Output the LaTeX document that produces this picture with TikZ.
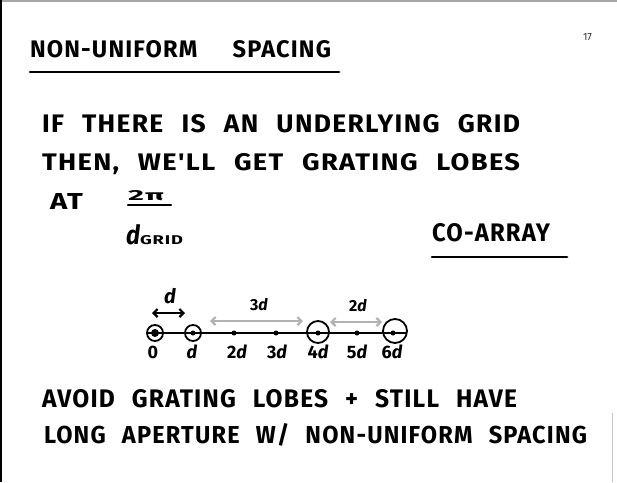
\documentclass[tikz,border=0pt]{standalone}
\usepackage{fontspec}
\usepackage{graphicx}
\newfontfamily\hand[LetterSpace=5,WordSpace=2.4]{Fira Sans}
\newfontfamily\handplain{Fira Sans}
\usetikzlibrary{arrows.meta}
\newcommand{\fitbox}[3]{\resizebox{#1pt}{#2pt}{\hand\bfseries #3}}
\begin{document}
\begin{tikzpicture}[x=1pt,y=-1pt,
  txt/.style={anchor=base west, inner sep=0pt, outer sep=0pt},
  uline/.style={line width=2.8pt, line cap=round},
  axis/.style={line width=2.4pt},
  ring/.style={circle, draw, line width=1.8pt, inner sep=0pt, minimum size=#1},
  dotn/.style={circle, fill, inner sep=0pt, minimum size=#1},
  dimarr/.style={{Straight Barb[length=4pt,width=8pt]}-{Straight Barb[length=4pt,width=8pt]}, line width=2.2pt},
  lab/.style={anchor=base, inner sep=0pt, font=\handplain\bfseries\fontsize{18}{18}\selectfont}
]
\useasboundingbox (0,0) rectangle (617,482);
% page frame
\draw[gray!70, line width=2pt] (0,1) -- (617,1);
\draw[black, line width=2pt] (1,0) -- (1,482);
\draw[gray!45, line width=0.8pt] (612,413) -- (612,482);

% page number
\node[txt, text=black!80] (pnum) at (583,40) {\resizebox{9pt}{7pt}{\handplain 17}};

% title
\node[txt] (title) at (30,57) {\fitbox{301}{17}{NON-UNIFORM\hspace{8pt} SPACING}};
\coordinate (tu1) at (30,72);
\coordinate (tu2) at (339,72);
\draw[uline] (tu1) -- (tu2);

% body text
\node[txt] (l1) at (42,132) {\fitbox{478}{18}{IF THERE IS AN UNDERLYING GRID}};
\node[txt] (l2) at (42,170) {\fitbox{478}{17}{THEN, WE'LL GET GRATING LOBES}};
\node[txt] (at) at (50,209) {\fitbox{33}{16}{AT}};

% fraction 2pi / d_grid
\node[txt] (num) at (128,200) {\fitbox{36}{10}{2π}};
\coordinate (fb1) at (128,205);
\coordinate (fb2) at (171,205);
\draw[uline, line width=2.4pt] (fb1) -- (fb2);
\node[txt] (den) at (126,244) {\resizebox{14pt}{20pt}{\handplain\bfseries\itshape d}\resizebox{43pt}{9pt}{\hand\bfseries GRID}};

% co-array
\node[txt] (coarray) at (432,241) {\fitbox{118}{18}{CO-ARRAY}};
\coordinate (cu1) at (432,257);
\coordinate (cu2) at (567,257);
\draw[uline] (cu1) -- (cu2);

% array diagram
\coordinate (axL) at (147,333);
\coordinate (axR) at (407,333);
\draw[axis] (axL) -- (axR);

\node[dotn=8pt] (p0) at (155,333) {};
\node[dotn=5pt] (p1) at (193,333) {};
\node[dotn=5pt] (p2) at (234,333) {};
\node[dotn=5pt] (p3) at (276,333) {};
\node[dotn=5pt] (p4) at (318,333) {};
\node[dotn=5pt] (p5) at (357,333) {};
\node[dotn=5pt] (p6) at (393,333) {};

\node[ring=16pt] (r0) at (p0) {};
\node[ring=16pt] (r1) at (p1) {};
\node[ring=22pt] (r4) at (318,332) {};
\node[ring=24pt] (r6) at (395,331) {};

\node[lab] (t0) at (153,358) {0};
\node[lab] (t1) at (192,358) {\itshape d};
\node[lab] (t2) at (237,358) {2\itshape d};
\node[lab] (t3) at (277,358) {3\itshape d};
\node[lab] (t4) at (318,358) {4\itshape d};
\node[lab] (t5) at (357,358) {5\itshape d};
\node[lab] (t6) at (392,358) {6\itshape d};

% spacing arrows
\coordinate (a1L) at (152,313);
\coordinate (a1R) at (185,313);
\draw[dimarr] (a1L) -- (a1R);
\node[lab, font=\handplain\bfseries\itshape\fontsize{20}{20}\selectfont] (d1) at (170,303) {d};

\coordinate (a3L) at (210,321);
\coordinate (a3R) at (303,321);
\draw[dimarr, draw=gray!60] (a3L) -- (a3R);
\node[lab, font=\handplain\bfseries\fontsize{16}{16}\selectfont] (d3) at (259,310) {3\itshape d};

\coordinate (a2L) at (330,322);
\coordinate (a2R) at (382,322);
\draw[dimarr, draw=gray!60] (a2L) -- (a2R);
\node[lab, font=\handplain\bfseries\fontsize{16}{16}\selectfont] (d2) at (358,311) {2\itshape d};

% conclusion
\node[txt] (l3) at (42,407) {\fitbox{475}{18}{AVOID GRATING LOBES + STILL HAVE}};
\node[txt] (l4) at (44,443) {\fitbox{543}{20}{LONG APERTURE W/ NON-UNIFORM SPACING}};
\end{tikzpicture}
\end{document}
